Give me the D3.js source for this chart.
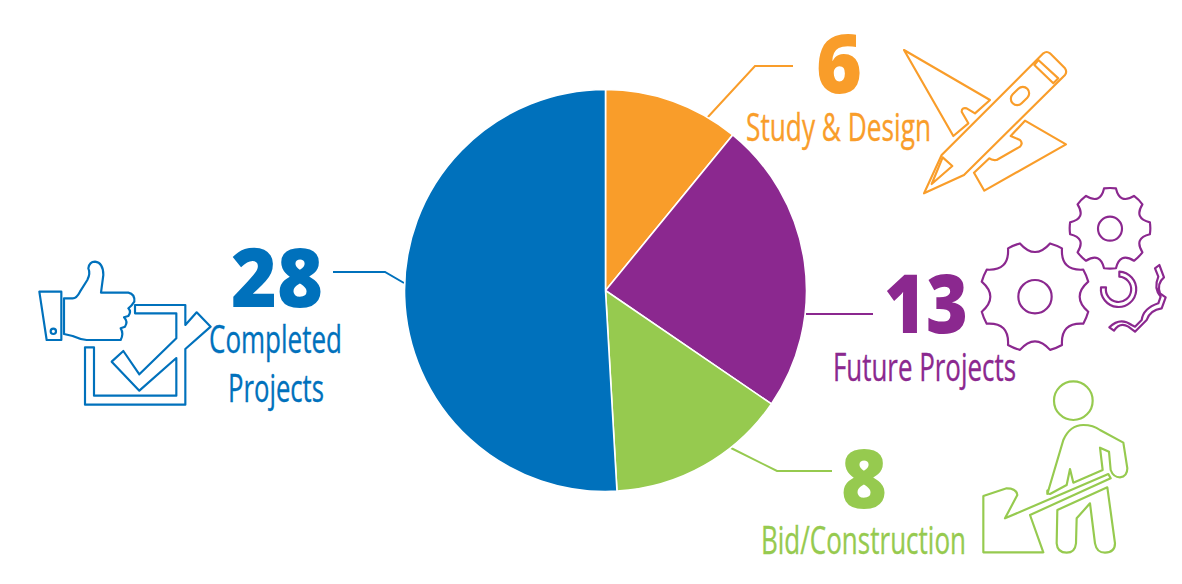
<!DOCTYPE html>
<html><head><meta charset="utf-8">
<script src="https://cdn.jsdelivr.net/npm/d3@7"></script>
<style>html,body{margin:0;padding:0;background:#fff}svg{display:block}</style></head>
<body><svg id="c" width="1182" height="584"></svg>
<script>
const categories = ["Study & Design","Future Projects","Bid/Construction","Completed Projects"];
const values = [6,13,8,28];
const colors = ["#F99D2A","#8B288F","#96CA4F","#0071BC"];
const labelLines = [["Study & Design"],["Future Projects"],["Bid/Construction"],["Completed","Projects"]];
// layout: number box, label boxes [x0,x1,baseline]
const numberBoxes = [[816,862,93],[884,968,333],[841,887,508],[231,323,307]];
const labelBoxes = [[[746,931,141]],[[833,1016,381]],[[761,966,554]],[[209,342,353],[228,324,402]]];
const leaders = [[[707,118],[755,66],[793,66]],[[806,314],[873,314]],[[729,447],[777,471],[832,471]],[[404,283],[385,272],[333,272]]];

const svg = d3.select("#c");
const cx=605.5, cy=290.5, R=201;
const pie = d3.pie().sort(null).value(d=>d);
const arc = d3.arc().innerRadius(0).outerRadius(R);

leaders.forEach((pts,i)=>svg.append("path").attr("d",d3.line()(pts)).attr("fill","none").attr("stroke",colors[i]).attr("stroke-width",2));

svg.append("g").attr("transform",`translate(${cx},${cy})`).selectAll("path").data(pie(values)).join("path")
  .attr("d",arc).attr("fill",(d,i)=>colors[i]).attr("stroke","#fff").attr("stroke-width",1.6);

values.forEach((v,i)=>{
  const b=numberBoxes[i];
  svg.append("text").text(v).attr("x",b[0]).attr("y",b[2]).attr("fill",colors[i])
    .attr("font-family","'Open Sans'").attr("font-weight",800).attr("font-size",81)
    .attr("textLength",b[1]-b[0]).attr("lengthAdjust","spacingAndGlyphs");
  labelLines[i].forEach((t,j)=>{
    const l=labelBoxes[i][j];
    svg.append("text").text(t).attr("x",l[0]).attr("y",l[2]).attr("fill",colors[i])
      .attr("stroke",colors[i]).attr("stroke-width",0.35)
      .attr("font-family","'Liberation Sans Narrow','Open Sans'").attr("font-size",38)
      .attr("textLength",l[1]-l[0]).attr("lengthAdjust","spacingAndGlyphs");
  });
});

// icons, drawn in 3x crop units
function icon(ox,oy,color){
  return svg.append("g").attr("transform",`translate(${ox},${oy}) scale(${1/3})`)
    .attr("fill","none").attr("stroke",color).attr("stroke-width",6.5).attr("stroke-linejoin","round");
}
// thumbs-up
const t=icon(0,230,colors[3]);
["M118,185L184,185L184,330L140,330Z",
 "M192,205L218,205Q230,205 240,185L262,150Q272,130 265,115Q268,95 285,95Q310,98 310,135L303,188L385,188Q405,192 403,215Q395,228 385,235Q395,245 385,258L372,262Q385,275 375,290L362,295Q372,310 362,330L260,330Q240,328 218,318L192,312Z",
 "M405,225L556,225L556,285L590,247L632,290L556,357L556,524L255,524L255,352L282,352L282,497L529,497L529,384L418,482L335,395L370,363L418,433L529,325L529,250L405,250Z"
].forEach(d=>t.append("path").attr("d",d));
t.append("circle").attr("cx",160).attr("cy",304).attr("r",8);
// pencil
const p=icon(700,30,colors[0]);
["M612,60L870,210L825,250L800,235Q785,232 785,245L805,280L760,318Z",
 "M975,272L1098,343L853,482L822,428L868,385Q875,392 890,390L960,350Q970,340 960,330L932,318Z",
 "M672,490L725,375L1030,70Q1040,62 1050,70L1095,115Q1102,125 1095,135L792,435Z",
 "M1003,105L1015,90L1075,145L1060,160Z",
 "M728,382L757,408L695,462Z"
].forEach(d=>p.append("path").attr("d",d));
p.append("rect").attr("x",-31).attr("y",-19).attr("width",62).attr("height",38).attr("rx",19)
  .attr("transform","translate(960,198) rotate(-45)");
// gears
function gear(cx,cy,n,ro,ri,half,phase){
  const pt=(a,r)=>[cx+r*Math.sin(a),cy-r*Math.cos(a)];
  const step=2*Math.PI/n; let d="";
  for(let k=0;k<n;k++){
    const a=phase+k*step, a0=a-half, a1=a+half, mid=a+step/2, a2=a+step-half;
    const s=pt(a0,ro), e=pt(a1,ro), nx=pt(a2,ro);
    if(k===0) d+=`M${s}`;
    d+=`A${ro},${ro} 0 0 1 ${e}`;
    const mx=pt(mid,ro*Math.cos(step/2-half));
    const ctrl=[2*pt(mid,ri)[0]-mx[0],2*pt(mid,ri)[1]-mx[1]];
    d+=`Q${ctrl} ${nx}`;
  }
  return d+"Z";
}
const g=icon(800,180,colors[1]);
g.append("path").attr("d",gear(705,350,8,166,134,6.7*Math.PI/180,22.5*Math.PI/180));
g.append("circle").attr("cx",705).attr("cy",350).attr("r",50);
g.append("path").attr("d",gear(930,145,8,121,97,8.5*Math.PI/180,0));
g.append("circle").attr("cx",930).attr("cy",146).attr("r",36);
g.append("path").attr("d","M958,275A53,53 0 1 1 903,322L918,322A38,38 0 1 0 958,290Z");
g.append("path").attr("d","M1065,265L1078,255L1092,292Q1070,310 1080,340L1097,352L1085,385Q1050,390 1040,420L1005,455L985,440Q960,425 942,452L928,442Q960,410 995,435L1005,440L1025,420Q1030,385 1075,370L1082,350Q1060,325 1075,290Z");
// worker
const w=icon(720,370,colors[2]);
w.append("circle").attr("cx",1060).attr("cy",92).attr("r",58);
["M982,372L1030,210Q1050,165 1090,165Q1120,165 1140,180L1210,218L1222,295Q1222,320 1200,322Q1180,322 1172,300L1167,245L1140,233L1148,300L1060,338L1050,297L1040,345L990,372Q980,372 982,362Z",
 "M790,378L860,355Q890,355 892,375L855,445L1165,312L1172,325L930,435L970,547L790,547Z",
 "M1162,352L1185,520Q1185,548 1155,548Q1130,548 1125,520L1110,400L1070,445L1068,520Q1065,548 1040,548Q1012,548 1010,520L1012,420Z"
].forEach(d=>w.append("path").attr("d",d));
</script></body></html>
